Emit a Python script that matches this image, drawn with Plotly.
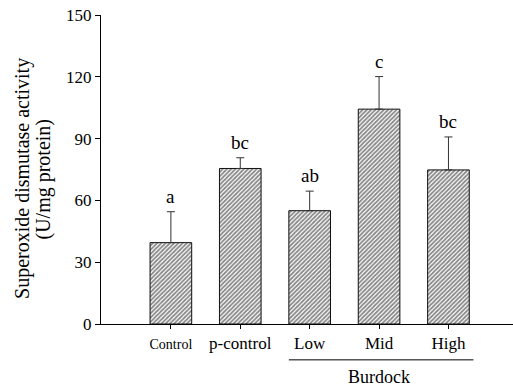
import plotly.graph_objects as go

# Superoxide dismutase activity by treatment group
groups = ["Control", "p-control", "Low", "Mid", "High"]
sod_mean = [39.5, 75.5, 55.0, 104.3, 74.8]
sod_sem = [15.0, 5.2, 9.5, 15.8, 16.0]
letters = ["a", "bc", "ab", "c", "bc"]
y_ticks = [0, 30, 60, 90, 120, 150]

FONT = "Liberation Serif"
xpos = list(range(len(groups)))

tick_text = ['<span style="font-size:14px">Control</span>'] + groups[1:]
tick_font = dict(family=FONT, size=17, color="black")

fig = go.Figure()
fig.add_trace(go.Bar(
    x=xpos,
    y=sod_mean,
    width=0.6,
    marker=dict(
        color="white",
        line=dict(color="#111111", width=1),
        pattern=dict(shape="/", fgcolor="#111111", bgcolor="white",
                     size=3, solidity=0.6),
    ),
    error_y=dict(type="data", symmetric=False, array=sod_sem,
                 arrayminus=[0] * len(sod_sem),
                 color="#333333", thickness=1, width=4),
    showlegend=False,
))

# Significance letters above each error bar
for x, m, e, t in zip(xpos, sod_mean, sod_sem, letters):
    fig.add_annotation(x=x, y=m + e, text=t, showarrow=False,
                       yanchor="bottom", yshift=3,
                       font=dict(family=FONT, size=19, color="black"))

# Group bracket for the burdock doses
fig.add_shape(type="line", xref="x", yref="paper",
              x0=1.7, x1=4.36, y0=-0.116, y1=-0.116,
              line=dict(color="black", width=1))
fig.add_annotation(x=3, xref="x", y=-0.172, yref="paper", text="Burdock",
                   showarrow=False, yanchor="middle",
                   font=dict(family=FONT, size=18, color="black"))

# Two-line y-axis title
fig.add_annotation(x=-0.189, xref="paper", y=0.47, yref="paper",
                   text="Superoxide dismutase activity", textangle=-90,
                   showarrow=False, xanchor="center", yanchor="middle",
                   font=dict(family=FONT, size=20, color="black"))
fig.add_annotation(x=-0.139, xref="paper", y=0.47, yref="paper",
                   text="(U/mg protein)", textangle=-90,
                   showarrow=False, xanchor="center", yanchor="middle",
                   font=dict(family=FONT, size=20, color="black"))

fig.update_layout(
    width=513, height=387,
    margin=dict(l=101, r=0, t=15, b=63),
    paper_bgcolor="white", plot_bgcolor="white",
    font=dict(family=FONT, size=17, color="black"),
    xaxis=dict(range=[-1.007, 4.93], tickvals=xpos, ticktext=tick_text,
               tickfont=tick_font,
               showline=True, linecolor="black", linewidth=1,
               ticks="outside", ticklen=4, tickcolor="black",
               showgrid=False, zeroline=False),
    yaxis=dict(range=[0, 150], tickvals=y_ticks, tickfont=tick_font,
               showline=True, linecolor="black", linewidth=1,
               ticks="outside", ticklen=5, tickcolor="black",
               showgrid=False, zeroline=False),
)

fig.write_html("out.html")
